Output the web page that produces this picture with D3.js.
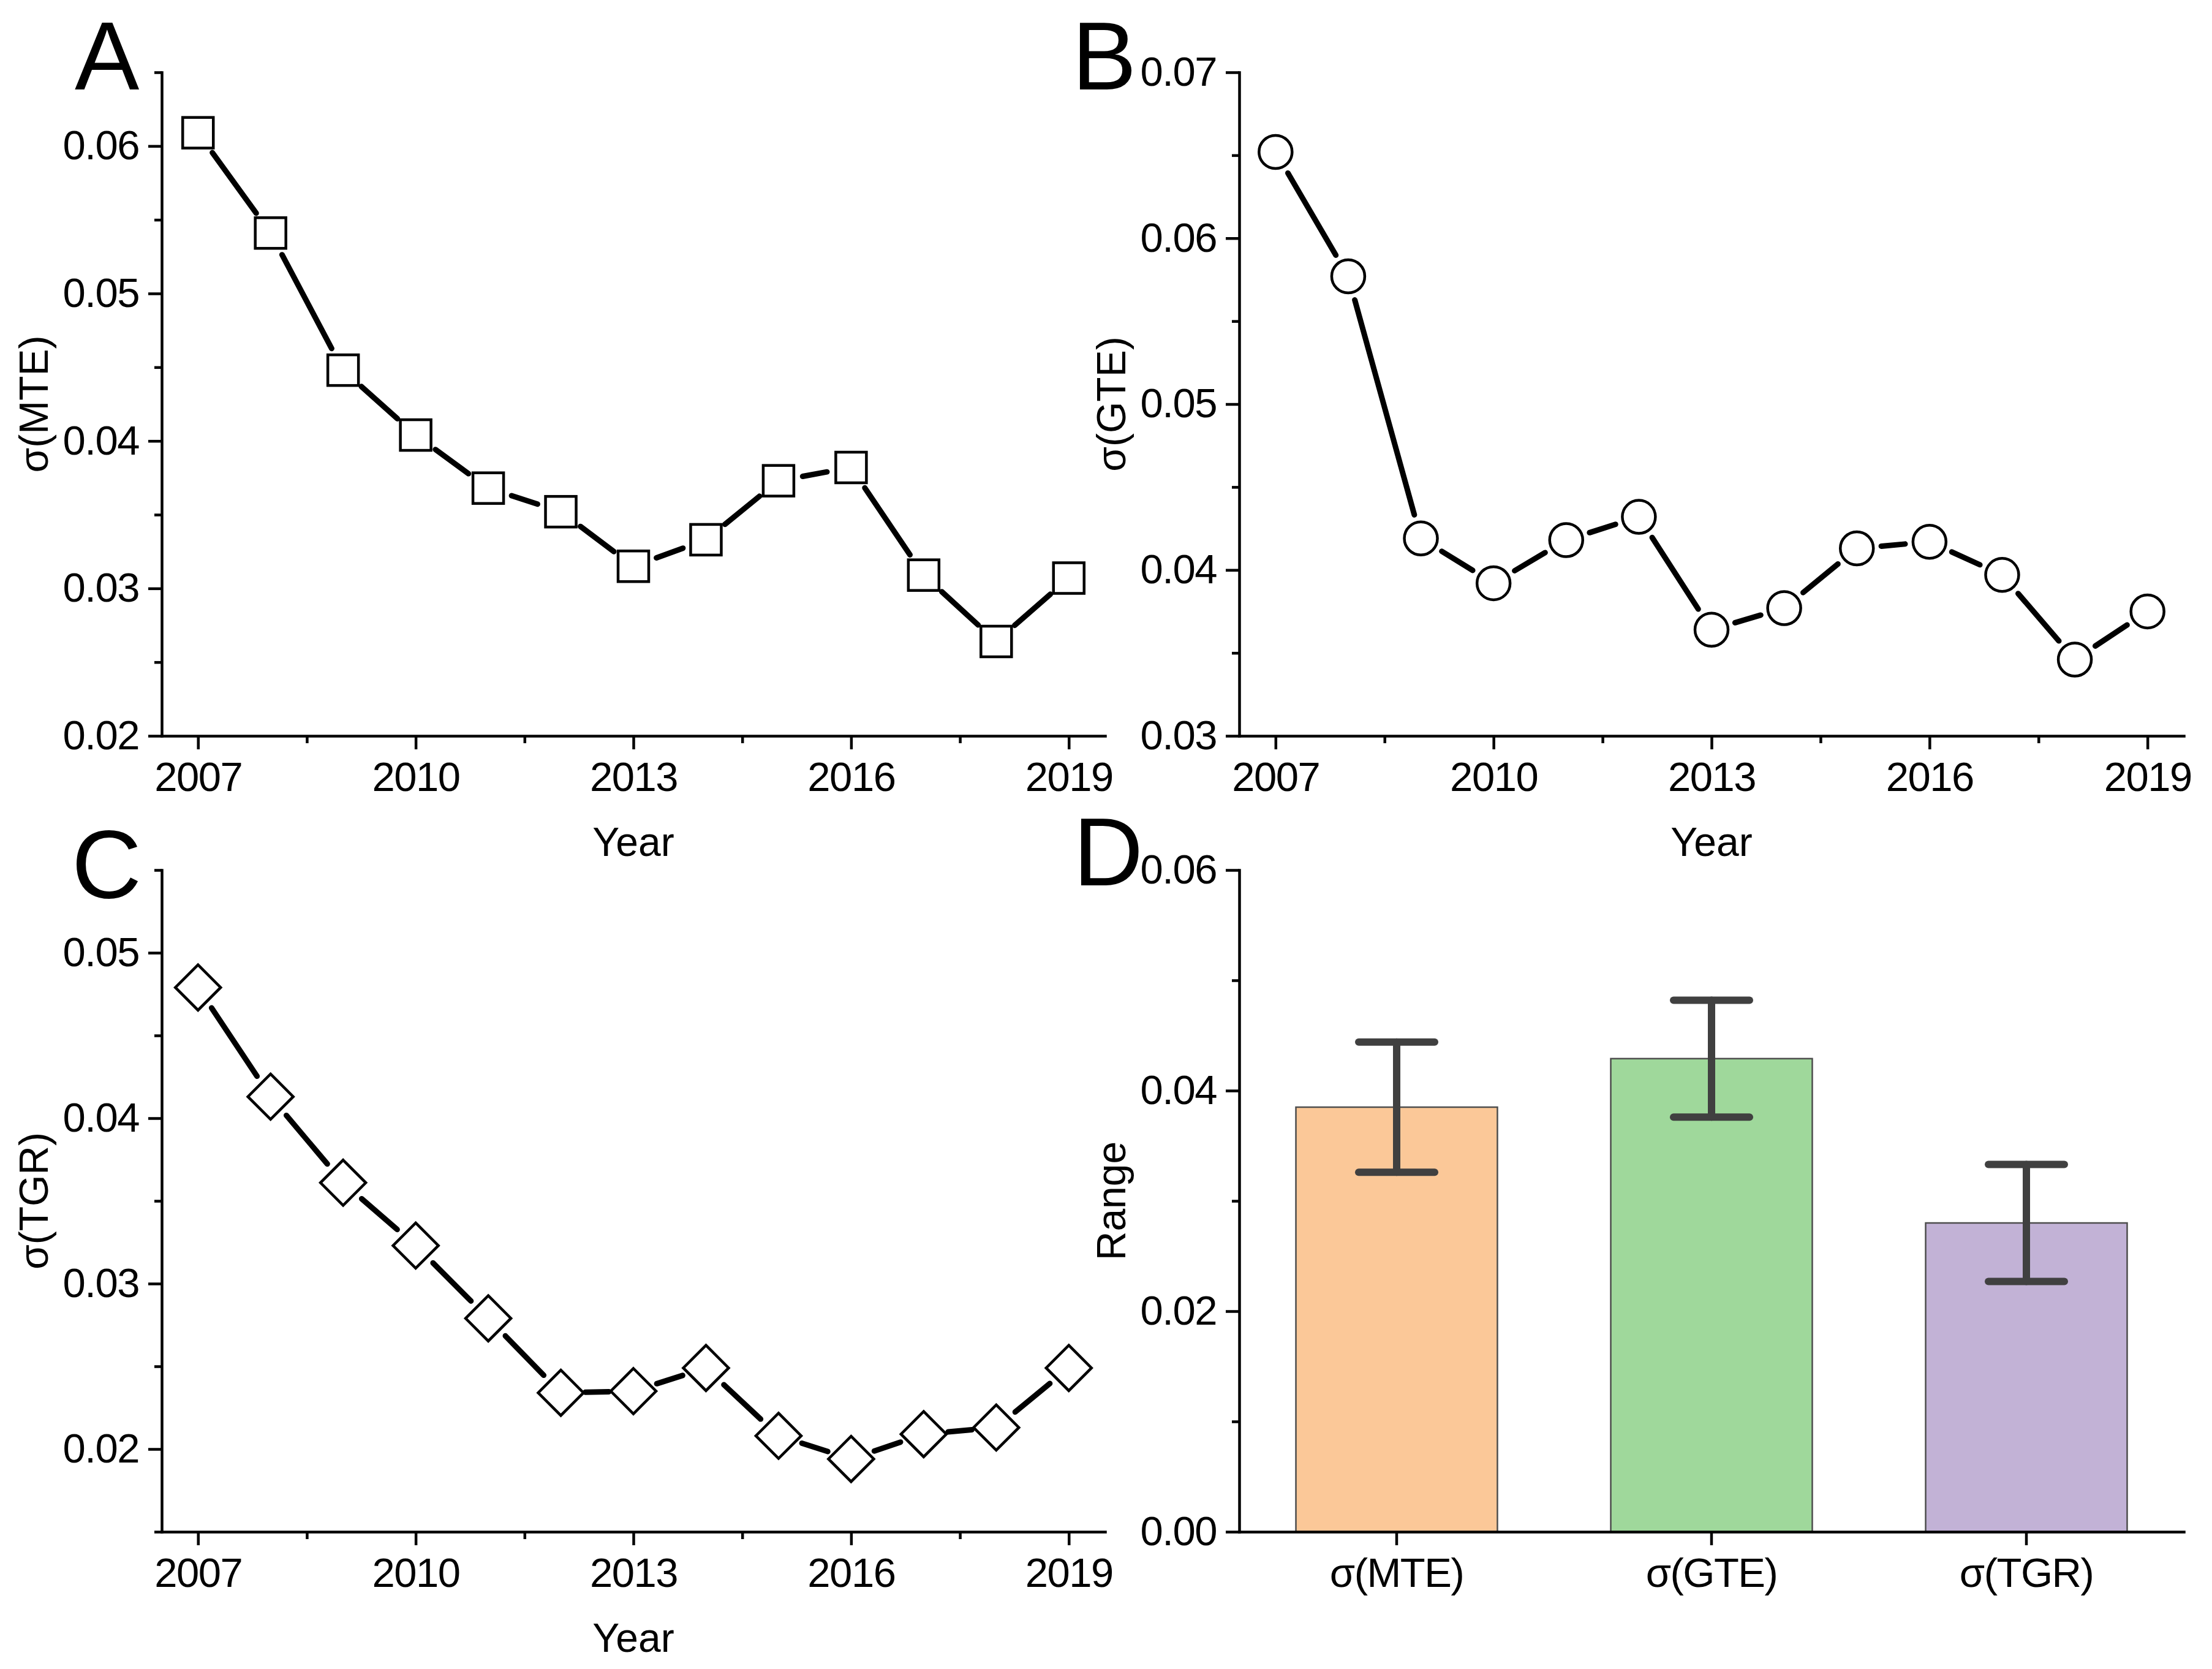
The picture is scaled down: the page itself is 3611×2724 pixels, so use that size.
<!DOCTYPE html>
<html><head><meta charset="utf-8">
<script src="https://cdn.jsdelivr.net/npm/d3@7"></script>
<style>
body{margin:0;background:#fff}
svg{display:block}
text{font-family:"Liberation Sans",Arial,Helvetica,sans-serif;fill:#000}
</style>
</head><body>
<svg id="chart" width="3611" height="2724"></svg>
<script>
// ---------- data ----------
const years = [2007,2008,2009,2010,2011,2012,2013,2014,2015,2016,2017,2018,2019];
const mteValues = [0.0609,0.0541,0.0448,0.0404,0.0368,0.0352,0.0315,0.0333,0.0373,0.0382,0.0309,0.0264,0.0307];
const gteValues = [0.0652,0.0577,0.0419,0.0392,0.0418,0.0432,0.0364,0.0377,0.0413,0.0417,0.0397,0.0346,0.0375];
const tgrValues = [0.0479,0.0413,0.0361,0.0323,0.0279,0.0234,0.0235,0.0249,0.0208,0.0194,0.0209,0.0213,0.0249];

const barCategories = ["σ(MTE)","σ(GTE)","σ(TGR)"];
const barValues = [0.0385,0.0429,0.0280];
const barErrors = [0.0059,0.0053,0.0053];
const barColors = ["#FBC898","#9FD89B","#C2B2D6"];

const yearTicks = [2007,2010,2013,2016,2019];
const yearMinorTicks = [2008.5,2011.5,2014.5,2017.5];
const aTicks = [0.02,0.03,0.04,0.05,0.06];
const aMinor = [0.025,0.035,0.045,0.055,0.065];
const bTicks = [0.03,0.04,0.05,0.06,0.07];
const bMinor = [0.035,0.045,0.055,0.065];
const cTicks = [0.02,0.03,0.04,0.05];
const cMinor = [0.015,0.025,0.035,0.045,0.055];
const dTicks = [0.00,0.02,0.04,0.06];
const dMinor = [0.01,0.03,0.05];

// ---------- layout ----------
const svg = d3.select("#chart");
const AX = 4.5;           // axis stroke
const MAJ = 22, MIN = 12; // tick lengths
const TICK_FS = 67, LABEL_FS = 66, LETTER_FS = 158;

const panels = {
  A:{x0:264, x1:1804, y0:118, y1:1201},
  B:{x0:2023,x1:3565, y0:118, y1:1201},
  C:{x0:264, x1:1804, y0:1420,y1:2500},
  D:{x0:2023,x1:3565, y0:1420,y1:2500}
};

function styleAxis(g){
  g.select(".domain").attr("stroke","#000").attr("stroke-width",AX).attr("stroke-linecap","square");
  g.selectAll(".tick line").attr("stroke","#000").attr("stroke-width",AX);
  g.selectAll(".tick text").attr("font-size",TICK_FS).attr("fill","#000")
    .attr("font-family",'"Liberation Sans",Arial,sans-serif').attr("letter-spacing",-1.5);
}

function yAxis(p, y, ticks, minor, fmt){
  const g = svg.append("g").attr("transform",`translate(${p.x0},0)`);
  g.call(d3.axisLeft(y).tickValues(minor).tickSize(MIN).tickSizeOuter(0).tickFormat(""));
  g.select(".domain").remove();
  g.selectAll(".tick line").attr("stroke","#000").attr("stroke-width",AX);
  const g2 = svg.append("g").attr("transform",`translate(${p.x0},0)`);
  g2.call(d3.axisLeft(y).tickValues(ticks).tickSize(MAJ).tickSizeOuter(0).tickPadding(15).tickFormat(d3.format(fmt)));
  styleAxis(g2);
}

function xYearAxis(p, x){
  const g = svg.append("g").attr("transform",`translate(0,${p.y1})`);
  g.call(d3.axisBottom(x).tickValues(yearMinorTicks).tickSize(MIN).tickSizeOuter(0).tickFormat(""));
  g.select(".domain").remove();
  g.selectAll(".tick line").attr("stroke","#000").attr("stroke-width",AX);
  const g2 = svg.append("g").attr("transform",`translate(0,${p.y1})`);
  g2.call(d3.axisBottom(x).tickValues(yearTicks).tickSize(MAJ).tickSizeOuter(0).tickPadding(20).tickFormat(d3.format("d")));
  styleAxis(g2);
}

function labels(p, ylab, xlab, letter, lx, ly){
  svg.append("text").attr("transform",`translate(${p.x0-186},${(p.y0+p.y1)/2}) rotate(-90)`)
    .attr("text-anchor","middle").attr("font-size",LABEL_FS).text(ylab);
  if(xlab){
    svg.append("text").attr("x",(p.x0+p.x1)/2).attr("y",p.y1+196)
      .attr("text-anchor","middle").attr("font-size",LABEL_FS).text(xlab);
  }
  svg.append("text").attr("x",lx).attr("y",ly).attr("font-size",LETTER_FS).text(letter);
}

function gappedLine(pts, gap){
  const g = svg.append("g");
  for(let i=0;i<pts.length-1;i++){
    const [ax,ay]=pts[i], [bx,by]=pts[i+1];
    const dx=bx-ax, dy=by-ay, L=Math.hypot(dx,dy);
    if(L<=2*gap) continue;
    const ux=dx/L, uy=dy/L;
    g.append("line")
      .attr("x1",ax+ux*gap).attr("y1",ay+uy*gap)
      .attr("x2",bx-ux*gap).attr("y2",by-uy*gap)
      .attr("stroke","#000").attr("stroke-width",9).attr("stroke-linecap","round");
  }
}

function linePanel(key, values, domain, ticks, minor, shape, ylab, letter, lx, ly){
  const p = panels[key];
  const x = d3.scaleLinear().domain([2006.5,2019.5]).range([p.x0,p.x1]);
  const y = d3.scaleLinear().domain(domain).range([p.y1,p.y0]);
  const pts = years.map((yr,i)=>[x(yr), y(values[i])]);
  gappedLine(pts, 40);
  const mk = svg.append("g");
  pts.forEach(([px,py])=>{
    if(shape==="square"){
      mk.append("rect").attr("x",px-25).attr("y",py-25).attr("width",50).attr("height",50)
        .attr("fill","#fff").attr("stroke","#000").attr("stroke-width",4.5);
    } else if(shape==="circle"){
      mk.append("circle").attr("cx",px).attr("cy",py).attr("r",27)
        .attr("fill","#fff").attr("stroke","#000").attr("stroke-width",4.5);
    } else {
      const h=37;
      mk.append("path").attr("d",`M${px},${py-h}L${px+h},${py}L${px},${py+h}L${px-h},${py}Z`)
        .attr("fill","#fff").attr("stroke","#000").attr("stroke-width",4.5).attr("stroke-linejoin","miter");
    }
  });
  yAxis(p, y, ticks, minor, ".2f");
  xYearAxis(p, x);
  labels(p, ylab, "Year", letter, lx, ly);
}

linePanel("A", mteValues, [0.02,0.065], aTicks, aMinor, "square", "σ(MTE)", "A", 122, 146);
linePanel("B", gteValues, [0.03,0.07], bTicks, bMinor, "circle", "σ(GTE)", "B", 1750, 146);
linePanel("C", tgrValues, [0.015,0.055], cTicks, cMinor, "diamond", "σ(TGR)", "C", 117, 1465);

// ---------- panel D ----------
(function(){
  const p = panels.D;
  const x = d3.scaleBand().domain(barCategories).range([p.x0,p.x1]).paddingInner(0.36).paddingOuter(0.18);
  const y = d3.scaleLinear().domain([0,0.06]).range([p.y1,p.y0]);
  svg.append("g").selectAll("rect").data(barCategories).join("rect")
    .attr("x",d=>x(d)).attr("width",x.bandwidth())
    .attr("y",(d,i)=>y(barValues[i])).attr("height",(d,i)=>y(0)-y(barValues[i]))
    .attr("fill",(d,i)=>barColors[i]).attr("stroke","#4d4d4d").attr("stroke-width",2.5);
  const eb = svg.append("g").attr("stroke","#404040").attr("stroke-width",12).attr("stroke-linecap","round");
  barCategories.forEach((c,i)=>{
    const cx = x(c)+x.bandwidth()/2;
    const hi = y(barValues[i]+barErrors[i]), lo = y(barValues[i]-barErrors[i]);
    eb.append("line").attr("x1",cx).attr("x2",cx).attr("y1",hi).attr("y2",lo);
    eb.append("line").attr("x1",cx-62).attr("x2",cx+62).attr("y1",hi).attr("y2",hi);
    eb.append("line").attr("x1",cx-62).attr("x2",cx+62).attr("y1",lo).attr("y2",lo);
  });
  yAxis(p, y, dTicks, dMinor, ".2f");
  const g = svg.append("g").attr("transform",`translate(0,${p.y1})`);
  g.call(d3.axisBottom(x).tickSize(MAJ).tickSizeOuter(0).tickPadding(20));
  styleAxis(g);
  labels(p, "Range", null, "D", 1752, 1445);
})();
</script>
</body></html>
